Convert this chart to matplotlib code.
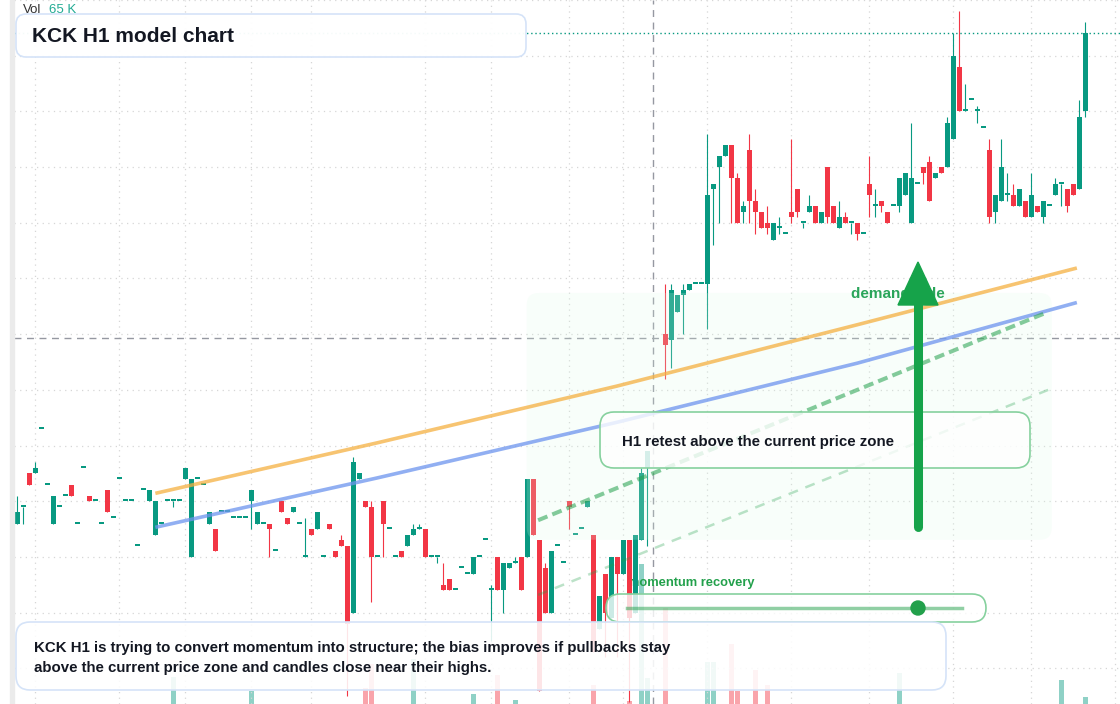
"""
KCK H1 model chart: candles + volume, trend overlays and note boxes.
"""

import numpy as np
import matplotlib
matplotlib.use('Agg')
import matplotlib.pyplot as plt
from matplotlib.patches import FancyBboxPatch, Polygon, Rectangle, Circle

plt.rcParams['font.family'] = ['Liberation Sans', 'DejaVu Sans']

# --- Colours ---
UP = '#089981'
DOWN = '#f23645'
GRID = '#d6d6d6'
TEXT = '#131722'
GREEN = '#16a34a'
LABEL_GREEN = '#22a04b'
BLUE_EDGE = '#d5e3f8'
GREEN_EDGE = '#86d19e'

nan = np.nan

# --- Data (H1 candles, price) ---
opens = [
    3.6, 3.9, 4.5, 4.5, 5.3, 4.3, 3.6, 3.9, 4.1, 4.3,
    3.6, 4.6, 4.1, 4.0, 3.6, 4.2, 3.7, 4.4, 4.0, 4.0,
    3.2, 4.2, 4.0, 3.4, 3.6, 4.0, 4.0, 4.0, 4.4, 3.0,
    4.4, 4.3, 3.6, 3.5, 3.8, 3.8, 3.7, 3.7, 3.7, 4.0,
    3.6, 3.6, 3.6, 3.1, 4.0, 3.7, 3.8, 3.6, 3.0, 3.5,
    3.5, 3.0, 3.6, 3.1, 3.3, 3.2, 2.0, 4.4, 4.0, 3.9,
    3.0, 4.0, 3.5, 3.0, 3.1, 3.2, 3.4, 3.5, 3.5, 3.0,
    3.0, 2.5, 2.6, 2.4, 2.8, 2.7, 2.7, 3.0, 3.3, 2.4,
    3.0, 2.4, 2.8, 2.9, 3.0, 3.0, 4.4, 3.3, 2.8, 2.0,
    3.2, 2.9, 4.0, 3.4, 3.5, 3.9, 3.4, 1.7, 2.7, 1.9,
    3.0, 2.7, 3.3, 2.0, 3.3, 4.6, nan, nan, 7.0, 6.9,
    7.4, 7.7, 7.8, 7.9, 7.9, 7.9, 9.6, 10.0, 10.2, 10.4,
    9.8, 9.2, 10.3, 9.4, 9.2, 9.0, 8.7, 8.9, 8.8, 9.2,
    9.6, 9.0, 9.2, 9.3, 9.0, 10.0, 9.3, 8.9, 9.1, 9.0,
    9.0, 8.8, 9.7, 9.3, 9.4, 9.2, 9.3, 9.3, 9.5, 9.0,
    9.7, 10.0, 10.1, 9.8, 10.0, 10.0, 10.5, 11.8, 11.0, 11.2,
    11.0, 10.7, 10.3, 9.2, 9.4, 9.5, 9.5, 9.3, 9.4, 9.1,
    9.3, 9.1, 9.3, 9.5, 9.7, 9.6, 9.7, 9.6, 11.0,
]
highs = [
    4.1, 3.9, 4.5, 4.7, 5.3, 4.3, 4.1, 3.9, 4.1, 4.3,
    3.6, 4.6, 4.1, 4.0, 3.6, 4.2, 3.7, 4.4, 4.0, 4.0,
    3.2, 4.2, 4.2, 4.0, 3.6, 4.0, 4.0, 4.0, 4.6, 4.4,
    4.4, 4.3, 3.8, 3.5, 3.8, 3.8, 3.7, 3.7, 3.7, 4.2,
    3.8, 3.6, 3.6, 3.1, 4.0, 3.7, 3.9, 3.6, 3.7, 3.5,
    3.8, 3.0, 3.6, 3.1, 3.4, 3.2, 4.8, 4.5, 4.0, 4.0,
    3.0, 4.0, 3.5, 3.0, 3.1, 3.4, 3.6, 3.6, 3.5, 3.0,
    3.0, 2.9, 2.6, 2.4, 2.8, 2.7, 3.0, 3.0, 3.3, 2.5,
    3.0, 2.9, 2.9, 3.0, 3.0, 4.4, 4.4, 3.3, 2.9, 3.1,
    3.2, 2.9, 4.0, 3.4, 3.5, 4.0, 3.4, 2.3, 2.7, 3.0,
    3.0, 3.3, 3.3, 3.4, 4.6, 4.9, nan, nan, 7.9, 7.9,
    7.7, 7.9, 7.9, 7.9, 7.9, 10.6, 9.7, 10.2, 10.4, 10.4,
    9.9, 9.4, 10.6, 9.6, 9.2, 9.3, 9.0, 9.1, 8.8, 10.5,
    9.6, 9.0, 9.5, 9.3, 9.2, 10.0, 9.3, 9.4, 9.2, 9.0,
    9.0, 8.8, 10.2, 9.6, 9.4, 9.2, 9.3, 9.8, 9.9, 10.8,
    9.7, 10.0, 10.2, 9.9, 10.0, 10.9, 12.4, 12.8, 11.5, 11.2,
    11.1, 10.7, 10.5, 9.5, 10.5, 9.9, 9.7, 9.6, 9.4, 9.9,
    9.3, 9.4, 9.3, 9.8, 9.7, 9.6, 9.7, 11.2, 12.6,
]
lows = [
    3.6, 3.6, 4.3, 4.5, 5.3, 4.3, 3.6, 3.9, 4.1, 4.1,
    3.6, 4.6, 4.0, 4.0, 3.6, 3.8, 3.7, 4.4, 4.0, 4.0,
    3.2, 4.2, 4.0, 3.4, 3.6, 4.0, 3.9, 4.0, 4.4, 3.0,
    4.4, 4.3, 3.6, 3.1, 3.8, 3.8, 3.7, 3.7, 3.7, 3.5,
    3.6, 3.6, 3.0, 3.1, 3.8, 3.6, 3.8, 3.6, 3.0, 3.4,
    3.5, 3.0, 3.5, 3.0, 3.2, 0.5, 2.0, 4.4, 3.9, 2.2,
    3.0, 3.0, 3.5, 3.0, 3.0, 3.2, 3.4, 3.5, 3.0, 3.0,
    2.9, 2.4, 2.4, 2.4, 2.8, 2.7, 2.7, 3.0, 3.3, 1.5,
    2.4, 2.0, 2.8, 2.9, 2.4, 3.0, 3.4, 0.6, 2.0, 2.0,
    3.2, 2.9, 3.5, 3.4, 3.5, 3.9, 1.3, 1.7, 1.2, 1.9,
    1.2, 2.7, 0.4, 2.0, 3.3, 3.2, nan, nan, 6.2, 6.4,
    7.4, 7.0, 7.8, 7.9, 7.9, 7.1, 8.6, 9.0, 10.2, 9.0,
    9.0, 9.0, 9.0, 8.8, 8.9, 8.8, 8.7, 8.8, 8.8, 9.0,
    9.1, 8.9, 9.2, 9.0, 9.0, 9.0, 9.0, 8.9, 9.0, 8.8,
    8.7, 8.8, 9.1, 9.1, 9.2, 9.0, 9.3, 9.2, 9.5, 9.0,
    9.7, 9.7, 9.4, 9.8, 9.9, 10.0, 10.5, 11.0, 11.0, 11.2,
    10.8, 10.7, 9.0, 9.0, 9.4, 9.4, 9.3, 9.3, 9.1, 9.1,
    9.2, 9.0, 9.3, 9.5, 9.3, 9.2, 9.5, 9.6, 10.9,
]
closes = [
    3.8, 3.9, 4.3, 4.6, 5.3, 4.3, 4.1, 3.9, 4.1, 4.1,
    3.6, 4.6, 4.0, 4.0, 3.6, 3.8, 3.7, 4.4, 4.0, 4.0,
    3.2, 4.2, 4.2, 4.0, 3.6, 4.0, 4.0, 4.0, 4.6, 4.4,
    4.4, 4.3, 3.8, 3.1, 3.8, 3.8, 3.7, 3.7, 3.7, 4.2,
    3.8, 3.6, 3.5, 3.1, 3.8, 3.6, 3.9, 3.6, 3.0, 3.4,
    3.8, 3.0, 3.5, 3.0, 3.2, 1.8, 4.7, 4.5, 3.9, 3.0,
    3.0, 3.6, 3.5, 3.0, 3.0, 3.4, 3.5, 3.5, 3.0, 3.0,
    3.0, 2.4, 2.4, 2.4, 2.8, 2.7, 3.0, 3.0, 3.3, 2.4,
    2.4, 2.9, 2.9, 2.9, 2.4, 4.4, 3.4, 0.6, 2.0, 3.1,
    3.2, 2.9, 3.9, 3.4, 3.5, 4.0, 1.3, 2.3, 2.0, 3.0,
    2.7, 3.3, 1.9, 3.4, 4.5, 4.9, nan, nan, 6.8, 7.8,
    7.7, 7.8, 7.9, 7.9, 7.9, 9.5, 9.7, 10.2, 10.4, 9.8,
    9.0, 9.3, 9.4, 9.2, 8.9, 8.9, 9.0, 8.9, 8.8, 9.1,
    9.2, 9.0, 9.3, 9.0, 9.2, 9.1, 9.0, 9.1, 9.0, 9.0,
    8.8, 8.8, 9.5, 9.3, 9.3, 9.0, 9.3, 9.8, 9.9, 9.8,
    9.7, 9.9, 9.4, 9.9, 9.9, 10.8, 12.0, 11.0, 11.0, 11.2,
    11.0, 10.7, 9.1, 9.5, 10.0, 9.5, 9.3, 9.6, 9.1, 9.5,
    9.2, 9.4, 9.3, 9.7, 9.7, 9.3, 9.5, 10.9, 12.4,
]

# volume (K) — only bars that show above the base
vol_idx = [26, 39, 58, 59, 66, 76, 80, 83, 96, 102, 104, 105, 108,
           115, 116, 119, 120, 123, 125, 147, 174, 178]
vol_k = [13.5, 6.5, 8.0, 20.0, 22.5, 5.0, 14.5, 2.0, 9.5, 1.5, 70.0, 13.0, 48.0,
         21.0, 21.0, 30.0, 6.5, 17.0, 9.5, 15.5, 12.0, 3.5]

# model overlays (candle index, price)
trend_x = [23.3, 60, 100, 140, 176.3]
trend_orange = [4.15, 5.05, 6.07, 7.17, 8.18]
trend_blue = [3.54, 4.42, 5.42, 6.48, 7.56]
guide_x = [86.8, 171.8]
guide_upper = [3.66, 7.40]
guide_lower = [2.32, 6.00]
zone_x = [84.9, 172.4]
zone_price = [3.31, 7.74]
cross_idx = 106
cross_price = 6.93
vgrid_idx = [3, 17, 28, 39, 49, 68, 79, 92, 101, 115, 129, 142, 156, 169, 183]


def render():
    W, H = 1120, 704
    fig = plt.figure(figsize=(W / 100, H / 100), dpi=100, facecolor='white')
    left = 14 / W

    # volume sits under the price axes
    vax = fig.add_axes([left, 0, 1 - left, 1], zorder=0)
    ax = fig.add_axes([left, 0, 1 - left, 1], zorder=1, sharex=vax)
    ax.patch.set_visible(False)

    ov = fig.add_axes([0, 0, 1, 1], zorder=10)
    ov.set_xlim(0, W)
    ov.set_ylim(H, 0)
    ov.axis('off')

    o, h, l, c = (np.array(a, dtype=float) for a in (opens, highs, lows, closes))
    x = np.arange(len(o))
    ok = ~np.isnan(o)
    up = c >= o
    cols = np.where(up, UP, DOWN)

    # ============ VOLUME ============
    vcols = [UP if up[i] else DOWN for i in vol_idx]
    vax.bar(vol_idx, vol_k, width=0.83, color=vcols, alpha=0.45, linewidth=0)
    vax.set_ylim(0, 352)
    vax.axis('off')

    # ============ PRICE ============
    ax.set_xlim(-0.55, 183.78)
    ax.set_ylim(13 - H / 55.7, 13)
    ax.set_yticks(np.arange(1, 14))
    ax.set_xticks(vgrid_idx)
    ax.tick_params(length=0, labelleft=False, labelbottom=False)
    ax.grid(True, color=GRID, linestyle=(0, (1, 3.5)), linewidth=0.9, zorder=0)
    ax.set_axisbelow(True)
    for s in ax.spines.values():
        s.set_visible(False)

    ax.axvline(cross_idx, color='#9598a1', lw=1, ls=(0, (5, 4)), zorder=1)
    ax.axhline(cross_price, color='#9598a1', lw=1, ls=(0, (5, 4)), zorder=1)
    ax.axhline(c[-1], color=UP, lw=1, ls=(0, (1, 2)), zorder=1)

    ax.vlines(x[ok], l[ok], h[ok], colors=cols[ok], lw=0.8, zorder=3)
    body = np.maximum(np.abs(c - o), 0.035)
    ax.bar(x[ok], body[ok], bottom=np.minimum(o, c)[ok], width=0.83,
           color=cols[ok], linewidth=0, zorder=4)

    # demand zone
    ax.add_patch(FancyBboxPatch((zone_x[0], zone_price[0]), zone_x[1] - zone_x[0],
                                zone_price[1] - zone_price[0],
                                boxstyle='round,pad=0,rounding_size=2',
                                mutation_aspect=6 / 55.7, facecolor='#dcfce7',
                                alpha=0.2, edgecolor='none', zorder=5))

    ax.plot(trend_x, trend_orange, color='#f5b041', lw=2.6, alpha=0.75, zorder=6)
    ax.plot(trend_x, trend_blue, color='#6d94ee', lw=2.6, alpha=0.75, zorder=6)
    ax.plot(guide_x, guide_upper, color=LABEL_GREEN, lw=2.9, alpha=0.55,
            ls=(0, (2.5, 1.3)), zorder=6)
    ax.plot(guide_x, guide_lower, color=LABEL_GREEN, lw=1.8, alpha=0.3,
            ls=(0, (4, 3.2)), zorder=6)

    # label sits under the candles
    ax.text(628, 583, 'momentum recovery', transform=ov.transData, color=LABEL_GREEN,
            fontsize=9.3, fontweight='bold', va='center', zorder=2)

    # ============ OVERLAY (pixel space) ============
    ov.add_patch(Rectangle((10, 0), 3.5, H, color='#ebebeb', zorder=1))

    ov.text(23, 10, 'Vol', fontsize=9.5, color='#333333', va='center', zorder=2)
    ov.text(49, 10, '65 K', fontsize=9.5, color='#22ab94', va='center', zorder=2)

    ov.add_patch(FancyBboxPatch((16, 14), 510, 43, boxstyle='round,pad=0,rounding_size=10',
                                facecolor=(1, 1, 1, 0.96), edgecolor=BLUE_EDGE, lw=1.2, zorder=3))
    ov.text(32, 37, 'KCK H1 model chart', fontsize=15, fontweight='bold', color=TEXT,
            va='center', zorder=4)

    ov.text(851, 294, 'demand side', fontsize=11, fontweight='bold', color='#2aa55a',
            va='center', zorder=2)

    ov.add_patch(FancyBboxPatch((600, 412), 430, 56, boxstyle='round,pad=0,rounding_size=14',
                                facecolor=(1, 1, 1, 0.8), edgecolor=GREEN_EDGE, lw=1.2, zorder=3))
    ov.text(622, 442, 'H1 retest above the current price zone', fontsize=10.8,
            fontweight='bold', color=TEXT, va='center', zorder=4)

    ov.add_patch(FancyBboxPatch((606, 594), 380, 28, boxstyle='round,pad=0,rounding_size=14',
                                facecolor=(1, 1, 1, 0.8), edgecolor=GREEN_EDGE, lw=1.2, zorder=3))
    ov.plot([627, 962], [608, 608], color=LABEL_GREEN, lw=2.5, alpha=0.5, zorder=4)
    ov.add_patch(Circle((918, 608), 7, color=LABEL_GREEN, zorder=5))

    ov.add_patch(FancyBboxPatch((16, 622), 930, 68, boxstyle='round,pad=0,rounding_size=14',
                                facecolor=(1, 1, 1, 0.88), edgecolor=BLUE_EDGE, lw=1.2, zorder=3))
    ov.text(34, 648, 'KCK H1 is trying to convert momentum into structure; the bias improves '
                     'if pullbacks stay', fontsize=10.8, fontweight='bold', color=TEXT,
            va='center', zorder=4)
    ov.text(34, 668, 'above the current price zone and candles close near their highs.',
            fontsize=10.8, fontweight='bold', color=TEXT, va='center', zorder=4)

    # arrow on top of everything
    ov.plot([918, 918], [527, 300], color=GREEN, lw=6.5, solid_capstyle='round', zorder=8)
    ov.add_patch(Polygon([(898, 305), (938, 305), (918, 262)], closed=True,
                         color=GREEN, zorder=8))

    fig.savefig('out.png', dpi=100, facecolor='white')
    plt.close(fig)


if __name__ == '__main__':
    render()
